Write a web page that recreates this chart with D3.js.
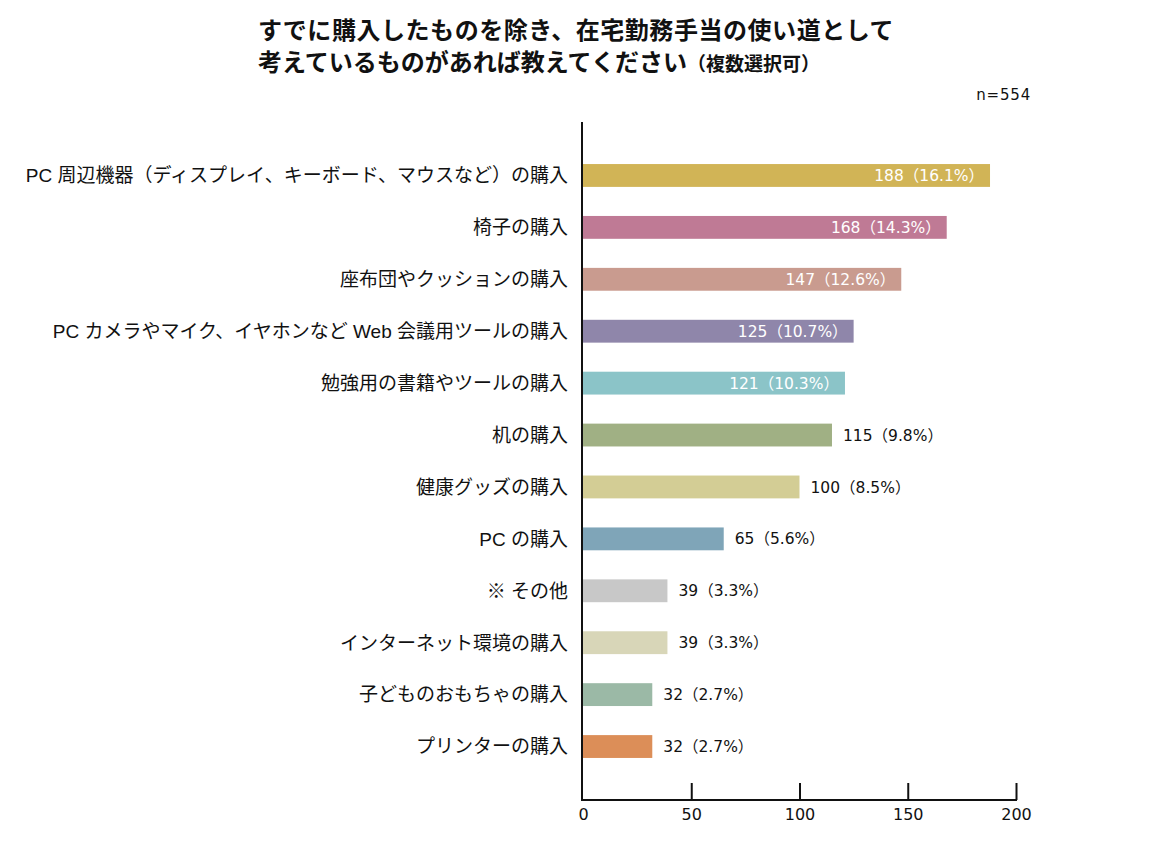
<!DOCTYPE html>
<html><head><meta charset="utf-8">
<script src="https://cdn.jsdelivr.net/npm/d3@7"></script>
<style>
html,body{margin:0;padding:0;background:#fff;}
svg{display:block;font-family:"Noto Sans CJK JP","Noto Sans",sans-serif;}
</style></head>
<body>
<svg id="chart" width="1174" height="847"></svg>
<script>
const categories = [
  "PC 周辺機器（ディスプレイ、キーボード、マウスなど）の購入",
  "椅子の購入",
  "座布団やクッションの購入",
  "PC カメラやマイク、イヤホンなど Web 会議用ツールの購入",
  "勉強用の書籍やツールの購入",
  "机の購入",
  "健康グッズの購入",
  "PC の購入",
  "※ その他",
  "インターネット環境の購入",
  "子どものおもちゃの購入",
  "プリンターの購入"
];
const counts = [188, 168, 147, 125, 121, 115, 100, 65, 39, 39, 32, 32];
const percents = ["16.1", "14.3", "12.6", "10.7", "10.3", "9.8", "8.5", "5.6", "3.3", "3.3", "2.7", "2.7"];
const colors = ["#D1B456", "#BF7A95", "#C99B8F", "#8F86AA", "#8BC4C8", "#A0B084", "#D3CD95", "#7FA5B8", "#C8C8C8", "#D8D6B8", "#9BB9A6", "#DC8E58"];
const xTicks = [0, 50, 100, 150, 200];
const titleLine1 = "すでに購入したものを除き、在宅勤務手当の使い道として";
const titleLine2 = "考えているものがあれば教えてください";
const titleNote = "（複数選択可）";
const sampleNote = "n=554";

const numFont = "'DejaVu Sans','Noto Sans CJK JP',sans-serif";
const labelFont = "'Liberation Sans','Noto Sans CJK JP',sans-serif";

const svg = d3.select("#chart");
const x = d3.scaleLinear().domain([0, 200]).range([583, 1016]);
const y = d3.scaleBand().domain(categories).range([122, 800]).paddingInner(0.56).paddingOuter(0.81);

// Title
svg.append("text").attr("x", 258).attr("y", 39).attr("font-size", 24).attr("letter-spacing", 0.55).attr("font-weight", "bold").attr("fill", "#111").text(titleLine1);
const t2 = svg.append("text").attr("x", 258).attr("y", 71).attr("font-size", 24).attr("font-weight", "bold").attr("fill", "#111");
t2.append("tspan").text(titleLine2);
t2.append("tspan").attr("font-size", 19).text(titleNote);
svg.append("text").attr("x", 1031).attr("y", 100).attr("text-anchor", "end").attr("font-size", 15).attr("letter-spacing", 0.8).attr("font-family", numFont).attr("fill", "#111").text(sampleNote);

// Bars
const data = categories.map((c, i) => ({c, v: counts[i], p: percents[i], col: colors[i], i}));
svg.append("g").selectAll("rect").data(data).join("rect")
  .attr("x", x(0)).attr("y", d => y(d.c))
  .attr("width", d => x(d.v) - x(0)).attr("height", y.bandwidth())
  .attr("fill", d => d.col);

// Value labels
svg.append("g").selectAll("text").data(data).join("text")
  .attr("x", d => d.i < 5 ? x(d.v) - 6 : x(d.v) + 11)
  .attr("y", d => y(d.c) + y.bandwidth() / 2)
  .attr("dy", "0.36em")
  .attr("text-anchor", d => d.i < 5 ? "end" : "start")
  .attr("font-size", 15.5)
  .attr("font-family", numFont)
  .attr("fill", d => d.i < 5 ? "#fff" : "#111")
  .text(d => `${d.v}（${d.p}%）`);

// Category labels
svg.append("g").selectAll("text").data(data).join("text")
  .attr("x", 568).attr("y", d => y(d.c) + y.bandwidth() / 2)
  .attr("dy", "0.36em").attr("text-anchor", "end")
  .attr("font-size", 19).attr("font-family", labelFont).attr("fill", "#111")
  .text(d => d.c);

// Axes
const xAxis = d3.axisBottom(x).tickValues(xTicks).tickSize(0).tickPadding(9);
const gx = svg.append("g").attr("transform", "translate(0,800)").call(xAxis);
gx.select(".domain").remove();
gx.selectAll("text").attr("font-size", 16).attr("fill", "#111").attr("font-family", numFont);
gx.selectAll(".tick line").remove();
gx.selectAll(".tick").filter(d => d > 0).append("line")
  .attr("x1", 0).attr("x2", 0).attr("y1", 0).attr("y2", -17)
  .attr("stroke", "#111").attr("stroke-width", 2);
svg.append("line").attr("x1", 582).attr("x2", 1017).attr("y1", 800).attr("y2", 800).attr("stroke", "#111").attr("stroke-width", 2);
svg.append("line").attr("x1", 582).attr("x2", 582).attr("y1", 122).attr("y2", 801).attr("stroke", "#111").attr("stroke-width", 2);
</script>
</body></html>
